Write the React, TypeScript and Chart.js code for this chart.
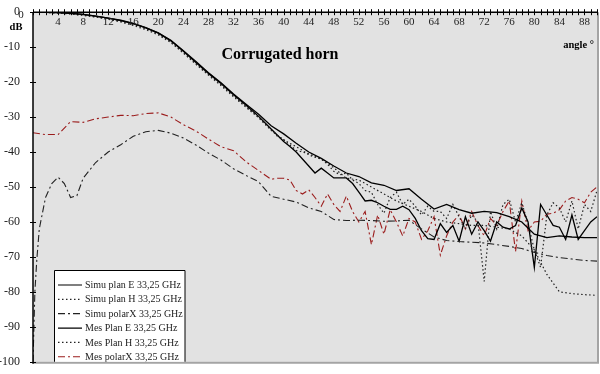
import React, { useEffect, useRef } from 'react';
import { Chart, registerables } from 'chart.js';
Chart.register(...registerables);

const FONT = '"Liberation Serif", "Times New Roman", serif';

// x tick labels (degrees)
const xTickLabels = [4, 8, 12, 16, 20, 24, 28, 32, 36, 40, 44, 48, 52, 56, 60, 64, 68, 72, 76, 80, 84, 88];

// simulation grid (every 2 degrees)
const simuAngles = [0, 2, 4, 6, 8, 10, 12, 14, 16, 18, 20, 22, 24, 26, 28, 30, 32, 34, 36, 38, 40, 42, 44, 46, 48, 50, 52, 54, 56, 58, 60, 62, 64, 66, 68, 70, 72, 74, 76, 78, 80, 82, 84, 86, 88, 90];
const simuPlanE = [0, -0.05, -0.15, -0.35, -0.65, -1.1, -1.7, -2.3, -3.2, -4.4, -5.9, -8.0, -11.0, -14.1, -17.3, -20.2, -23.4, -26.3, -29.2, -32.5, -34.8, -37.5, -40, -41.8, -44, -46, -47, -48.8, -49.5, -51, -50.5, -53.5, -56.3, -55, -56.5, -57.5, -57, -57.3, -58.5, -60, -63.5, -64.5, -64, -64.3, -64.5, -64.5];
const simuPlanH = [0, -0.08, -0.25, -0.5, -0.9, -1.4, -2.0, -2.8, -3.8, -5.0, -6.5, -8.7, -11.7, -14.9, -18, -21, -24.2, -27.2, -30.2, -33.8, -36.5, -39.5, -40.5, -42, -44.5, -47.5, -48, -50, -52, -54, -55.5, -57, -59, -60, -60.5, -61, -61, -61.5, -62, -64, -68, -75, -80, -80.5, -80.8, -81];

const simuXAngles = [0, 0.3, 0.6, 1, 2, 3, 4, 5, 6, 7, 8, 10, 12, 14, 16, 18, 20, 22, 24, 26, 28, 30, 32, 34, 36, 38, 40, 42, 44, 46, 48, 50, 52, 54, 56, 58, 60, 62, 64, 66, 68, 70, 72, 74, 76, 78, 80, 82, 84, 86, 88, 90];
const simuPolarX = [-100, -80, -71, -62, -53, -49, -47.2, -49, -53, -52.5, -47.5, -43, -40, -37.9, -35.5, -34.2, -33.8, -34.6, -36, -38, -40.3, -42.3, -44.8, -46.7, -48.5, -52.7, -53.5, -54.3, -56, -57, -59.3, -59.6, -59.5, -59.6, -59.8, -59.7, -59.5, -62, -64.3, -65.3, -65.6, -65.8, -66, -66.5, -67, -67.6, -68.7, -69.6, -70.2, -70.6, -71, -71.2];

// measurement grid
const mesAngles = [0, 2, 4, 6, 8, 10, 12, 14, 16, 18, 20, 22, 24, 26, 28, 30, 32, 34, 36, 38,
  39, 40, 41, 42, 43, 44, 45, 46, 47, 48, 49, 50, 51, 52, 53, 54, 55, 56, 57, 58, 59, 60, 61, 62, 63, 64, 65, 66, 67, 68, 69, 70, 71, 72, 73, 74, 75, 76, 77, 78, 79, 80, 81, 82, 83, 84, 85, 86, 87, 88, 89, 90];
const mesPlanE = [0, -0.05, -0.15, -0.35, -0.65, -1.1, -1.7, -2.4, -3.3, -4.5, -6.0, -8.2, -11.2, -14.4, -17.5, -20.4, -23.6, -26.6, -29.8, -33.4,
  -35.2, -37, -38.4, -40, -42, -44, -46, -44.6, -46, -47.4, -47.4, -47.4, -49, -51.5, -54, -53.8, -54.5, -55.5, -56.4, -56.4, -55.5, -56.5, -59, -62.5, -64.8, -65, -60.5, -63, -61, -65.5, -58.5, -63.5, -60, -62.5, -65.5, -60, -61.5, -62, -61, -56, -60, -73, -55, -58, -61, -61.5, -65, -58, -65, -62.5, -60, -58.5];
const mesPlanH = [0, -0.05, -0.2, -0.45, -0.8, -1.3, -1.9, -2.6, -3.5, -4.7, -6.2, -8.5, -11.5, -14.7, -17.8, -20.8, -24, -27, -30, -33.6,
  -35.5, -36.5, -37.5, -38.5, -39.5, -40.8, -41.5, -42, -43.5, -45.5, -46.5, -46, -48, -49, -51, -51.5, -55, -57.5, -53, -51.5, -55, -53.5, -55.5, -58, -55.5, -57, -57, -59, -55, -58.5, -62, -58, -60, -77, -57, -62, -55, -53.5, -60, -54.5, -60.5, -68, -73, -58, -54.5, -56, -60, -54, -62, -55, -57, -51];
const mesPolarX = [-34.5, -35, -35, -31.3, -31.5, -30.5, -30, -29.5, -29.6, -29, -28.8, -30, -32.2, -34, -36.3, -38.5, -39.6, -42.8, -45.3, -47.8,
  -47.5, -47.5, -48, -51, -52, -50.8, -53, -55.5, -52, -55, -57, -52.6, -57, -60, -57, -66.5, -58, -63.5, -56.5, -60, -64, -59, -60, -65, -62.5, -58.5, -69.5, -64, -60, -58, -62, -57, -61, -64, -59, -61, -57, -54, -68.5, -54, -62.5, -60, -59.8, -57.8, -57.5, -56.5, -54, -53, -53.5, -54.5, -51.5, -50];

const legendLabels = ['Simu plan E 33,25 GHz', 'Simu plan H 33,25 GHz', 'Simu polarX 33,25 GHz', 'Mes Plan E 33,25 GHz', 'Mes Plan H 33,25 GHz', 'Mes polarX 33,25 GHz'];

const DOT = [1.5, 2.5];
const DASHDOT = [7, 3, 2, 3];
const RED = '#9b1c1c';

const pts = (xs: number[], ys: number[]) => xs.map((x, i) => ({ x, y: ys[i] }));

const decor = {
  id: 'decor',
  beforeDatasetsDraw(chart: any) {
    const { ctx, chartArea: a } = chart;
    ctx.save();
    ctx.fillStyle = '#e2e2e2';
    ctx.fillRect(a.left, a.top, a.right - a.left, a.bottom - a.top);
    ctx.strokeStyle = '#a4a4a4';
    ctx.lineWidth = 2;
    ctx.beginPath();
    ctx.moveTo(a.right + 1, a.top);
    ctx.lineTo(a.right + 1, a.bottom + 2);
    ctx.moveTo(a.left, a.bottom + 1);
    ctx.lineTo(a.right + 2, a.bottom + 1);
    ctx.stroke();
    ctx.restore();
  },
  afterDatasetsDraw(chart: any) {
    const { ctx, chartArea: a, scales } = chart;
    const xs = scales.x;
    const ys = scales.y;
    ctx.save();
    ctx.strokeStyle = '#000';
    ctx.lineWidth = 1.5;
    ctx.beginPath();
    ctx.moveTo(a.left, a.top);
    ctx.lineTo(a.right, a.top);
    ctx.moveTo(a.left, a.top);
    ctx.lineTo(a.left, a.bottom + 2);
    ctx.stroke();
    ctx.lineWidth = 1;
    ctx.beginPath();
    for (let d = 0; d <= 90; d++) {
      const px = Math.round(xs.getPixelForValue(d)) + 0.5;
      ctx.moveTo(px, a.top - 3);
      ctx.lineTo(px, a.top + 3);
    }
    for (let v = -100; v <= 0; v += 10) {
      const py = Math.round(ys.getPixelForValue(v)) + 0.5;
      ctx.moveTo(a.left - 3, py);
      ctx.lineTo(a.left + 3, py);
    }
    ctx.stroke();
    ctx.fillStyle = '#222';
    ctx.font = `11px ${FONT}`;
    ctx.textAlign = 'center';
    ctx.textBaseline = 'middle';
    xTickLabels.forEach((v) => ctx.fillText(String(v), xs.getPixelForValue(v), a.top + 10));
    ctx.fillText('0', xs.getPixelForValue(0) - 12, a.top + 3);
    ctx.fillStyle = '#000';
    ctx.font = `bold 10.5px ${FONT}`;
    ctx.fillText('dB', 16, 27);
    ctx.font = `bold 16px ${FONT}`;
    ctx.fillText('Corrugated horn', 280, 55);
    ctx.font = `bold 10.5px ${FONT}`;
    ctx.textAlign = 'right';
    ctx.fillText('angle °', 594, 45);
    const bx = 54.5, by = 270.5, bw = 130.5;
    ctx.save();
    ctx.beginPath();
    ctx.rect(a.left, a.top, a.right - a.left, a.bottom - a.top);
    ctx.clip();
    ctx.fillStyle = '#fff';
    ctx.fillRect(bx, by, bw, a.bottom - by + 2);
    ctx.font = `10px ${FONT}`;
    ctx.textAlign = 'left';
    chart.data.datasets.forEach((ds: any, i: number) => {
      const y = 285 + i * 14.35;
      ctx.strokeStyle = ds.borderColor;
      ctx.lineWidth = 1.2;
      ctx.setLineDash(ds.borderDash || []);
      ctx.beginPath();
      ctx.moveTo(58, y);
      ctx.lineTo(82, y);
      ctx.stroke();
      ctx.setLineDash([]);
      ctx.fillStyle = '#222';
      ctx.fillText(legendLabels[i], 85, y + 0.5);
    });
    ctx.strokeStyle = '#000';
    ctx.lineWidth = 1;
    ctx.beginPath();
    ctx.moveTo(bx, a.bottom + 2);
    ctx.lineTo(bx, by);
    ctx.lineTo(bx + bw, by);
    ctx.lineTo(bx + bw, a.bottom + 2);
    ctx.stroke();
    ctx.restore();
    ctx.restore();
  },
};

export default function App() {
  const ref = useRef<HTMLCanvasElement>(null);
  useEffect(() => {
    document.body.style.margin = '0';
    const mk = (label: string, data: any[], color: string, dash: number[], width = 1.2) => ({
      label,
      data,
      borderColor: color,
      borderWidth: width,
      borderDash: dash,
      pointRadius: 0,
      fill: false,
      tension: 0,
    });
    const chart = new Chart(ref.current!, {
      type: 'line',
      data: {
        datasets: [
          mk(legendLabels[0], pts(simuAngles, simuPlanE), '#000', [], 1.3),
          mk(legendLabels[1], pts(simuAngles, simuPlanH), '#222', DOT, 1.2),
          mk(legendLabels[2], pts(simuXAngles, simuPolarX), '#222', DASHDOT, 1.1),
          mk(legendLabels[3], pts(mesAngles, mesPlanE), '#000', [], 1.3),
          mk(legendLabels[4], pts(mesAngles, mesPlanH), '#222', DOT, 1.2),
          mk(legendLabels[5], pts(mesAngles, mesPolarX), RED, DASHDOT, 1.1),
        ],
      },
      options: {
        responsive: false,
        devicePixelRatio: 1,
        animation: false,
        layout: { padding: { top: 10, right: 3, bottom: 12, left: 0 } },
        plugins: { legend: { display: false }, tooltip: { enabled: false }, title: { display: false } },
        scales: {
          x: { type: 'linear', min: 0, max: 90, display: false },
          y: {
            type: 'linear',
            min: -100,
            max: 0,
            ticks: { stepSize: 10, color: '#222', font: { family: FONT, size: 12 }, padding: 5 },
            grid: { display: false },
            border: { display: false },
            afterFit: (s: any) => { s.width = 33; },
          },
        },
      },
      plugins: [decor],
    });
    return () => chart.destroy();
  }, []);
  return (
    <div style={{ width: 600, height: 374, background: '#fff' }}>
      <canvas ref={ref} width={600} height={374} style={{ display: 'block' }} />
    </div>
  );
}
